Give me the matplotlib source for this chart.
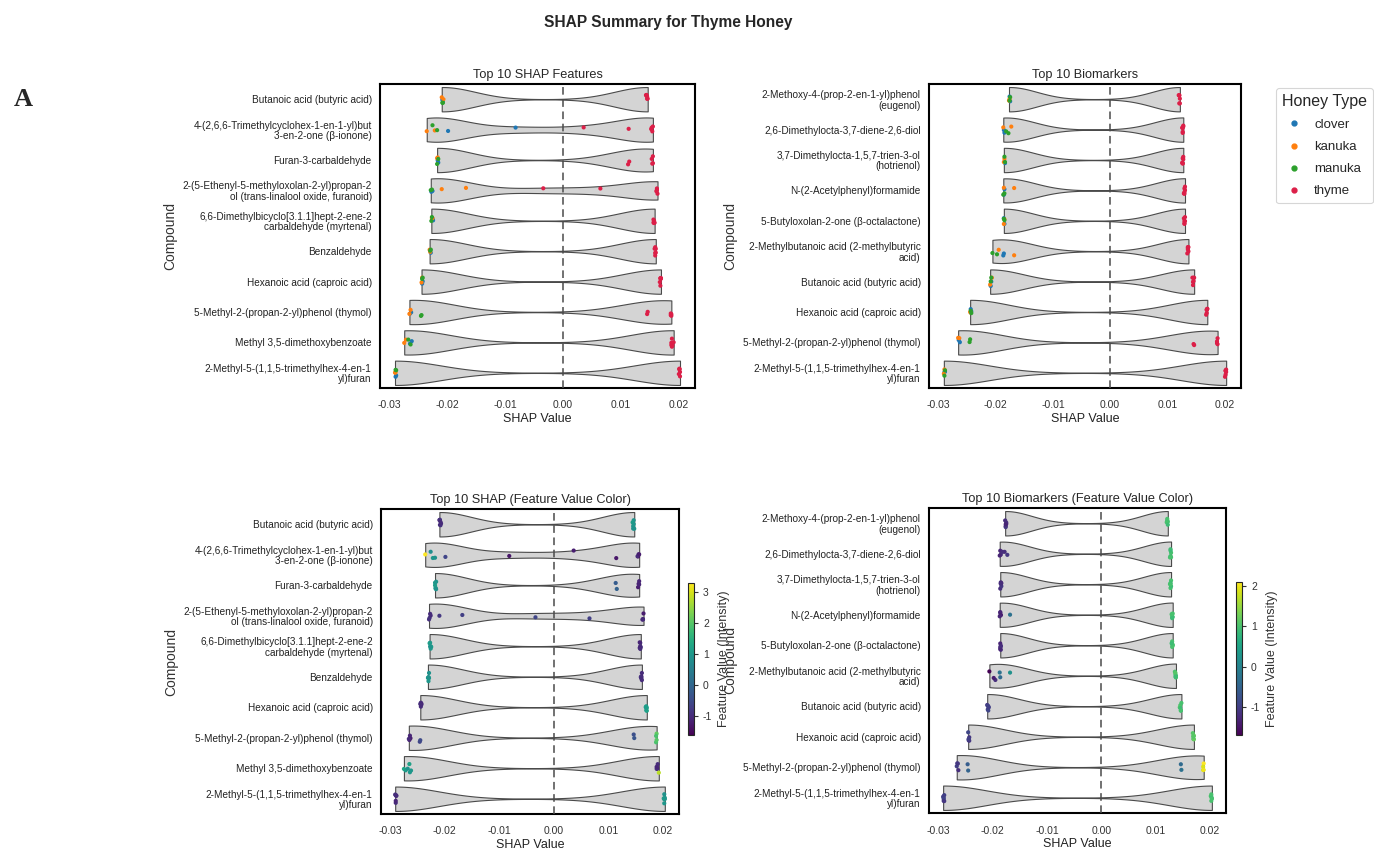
import numpy as np
import pandas as pd
import matplotlib
matplotlib.use("Agg")
import matplotlib.pyplot as plt
from matplotlib.lines import Line2D
import seaborn as sns

np.random.seed(3)

# sample order for every compound: 2 clover, 2 kanuka, 2 manuka, 6 thyme
honey = ['clover', 'clover', 'kanuka', 'kanuka', 'manuka', 'manuka',
         'thyme', 'thyme', 'thyme', 'thyme', 'thyme', 'thyme']
honey_order = ['clover', 'kanuka', 'manuka', 'thyme']
honey_colors = ['#1f77b4', '#ff7f0e', '#2ca02c', '#dc1f48']

# SHAP values and standardised feature values per compound
butanoic_shap = [-0.0209, -0.0208, -0.0210, -0.0207, -0.0209, -0.0208, 0.0145, 0.0146, 0.0144, 0.0147, 0.0145, 0.0146]
butanoic_feat = [-1.0, -0.9, -1.1, -1.0, -0.9, -1.0, 1.0, 0.9, 1.1, 1.0, 0.9, 1.0]
ionone_shap = [-0.0199, -0.0082, -0.0236, -0.0222, -0.0226, -0.0218, 0.0036, 0.0114, 0.0154, 0.0155, 0.0153, 0.0156]
ionone_feat = [-0.6, -1.3, 3.3, 1.0, 0.8, 0.9, -1.2, -1.3, -1.6, -1.1, -1.0, -1.2]
furan_shap = [-0.0217, -0.0216, -0.0218, -0.0217, -0.0216, -0.0218, 0.0113, 0.0115, 0.0155, 0.0156, 0.0154, 0.0156]
furan_feat = [1.0, 0.9, 1.1, 1.0, 0.9, 1.0, -0.2, -0.1, -1.2, -1.1, -1.2, -1.1]
linalool_shap = [-0.0228, -0.0226, -0.0210, -0.0168, -0.0227, -0.0229, -0.0034, 0.0065, 0.0163, 0.0164, 0.0162, 0.0163]
linalool_feat = [-0.9, -1.0, -0.8, -0.7, -1.0, -0.9, -0.6, -0.7, -1.1, -1.2, -1.1, -1.0]
myrtenal_shap = [-0.0226, -0.0225, -0.0227, -0.0226, -0.0228, -0.0227, 0.0158, 0.0157, 0.0159, 0.0158, 0.0157, 0.0158]
myrtenal_feat = [1.0, 1.1, 0.9, 1.0, 1.1, 0.9, -1.0, -1.1, -0.9, -1.0, -1.1, -1.0]
benzaldehyde_shap = [-0.0230, -0.0229, -0.0231, -0.0230, -0.0229, -0.0230, 0.0160, 0.0161, 0.0160, 0.0159, 0.0160, 0.0161]
benzaldehyde_feat = [1.0, 0.9, 1.0, 1.1, 1.0, 0.9, -1.0, -1.0, -1.1, -0.9, -1.0, -1.0]
hexanoic_shap = [-0.0244, -0.0243, -0.0245, -0.0244, -0.0243, -0.0244, 0.0169, 0.0170, 0.0169, 0.0168, 0.0170, 0.0169]
hexanoic_feat = [-1.0, -1.1, -0.9, -1.0, -1.1, -1.0, 1.1, 1.2, 1.0, 1.1, 1.2, 1.1]
thymol_shap = [-0.0265, -0.0263, -0.0266, -0.0264, -0.0246, -0.0245, 0.0146, 0.0147, 0.0187, 0.0188, 0.0187, 0.0188]
thymol_feat = [-1.1, -1.2, -1.0, -1.1, -0.6, -0.5, -0.4, -0.3, 1.9, 2.1, 1.9, 2.0]
dimethoxy_shap = [-0.0265, -0.0262, -0.0275, -0.0272, -0.0268, -0.0264, 0.0188, 0.0189, 0.0190, 0.0188, 0.0189, 0.0192]
dimethoxy_feat = [1.2, 1.0, 1.3, 1.1, 0.9, 1.0, -1.0, -1.1, -1.0, -0.9, -1.1, 2.8]
methylfuran_shap = [-0.0290, -0.0289, -0.0291, -0.0290, -0.0289, -0.0290, 0.0202, 0.0203, 0.0201, 0.0202, 0.0203, 0.0202]
methylfuran_feat = [-1.0, -1.1, -1.0, -0.9, -1.0, -1.1, 1.0, 1.0, 1.1, 0.9, 1.0, 1.0]
eugenol_shap = [-0.0176, -0.0175, -0.0177, -0.0176, -0.0175, -0.0176, 0.0121, 0.0122, 0.0121, 0.0120, 0.0121, 0.0122]
eugenol_feat = [-1.2, -1.3, -1.2, -1.1, -1.2, -1.3, 0.9, 1.0, 0.9, 1.0, 1.0, 0.9]
diol_shap = [-0.0186, -0.0185, -0.0173, -0.0187, -0.0182, -0.0178, 0.0127, 0.0128, 0.0127, 0.0126, 0.0127, 0.0128]
diol_feat = [-1.3, -1.2, -1.1, -1.3, -1.2, -1.2, 0.9, 1.0, 0.9, 1.0, 0.9, 1.0]
hotrienol_shap = [-0.0185, -0.0184, -0.0186, -0.0185, -0.0184, -0.0185, 0.0127, 0.0128, 0.0127, 0.0128, 0.0127, 0.0126]
hotrienol_feat = [-1.2, -1.3, -1.2, -1.3, -1.1, -1.2, 1.0, 0.9, 1.0, 1.0, 0.9, 1.0]
formamide_shap = [-0.0186, -0.0185, -0.0186, -0.0168, -0.0185, -0.0187, 0.0130, 0.0131, 0.0130, 0.0129, 0.0130, 0.0131]
formamide_feat = [-1.3, -1.4, -1.3, -0.3, -1.4, -1.3, 1.0, 0.9, 1.0, 1.0, 0.9, 1.0]
octalactone_shap = [-0.0186, -0.0185, -0.0186, -0.0185, -0.0186, -0.0185, 0.0130, 0.0131, 0.0130, 0.0131, 0.0130, 0.0129]
octalactone_feat = [-1.3, -1.2, -1.3, -1.2, -1.3, -1.2, 1.0, 1.0, 0.9, 1.0, 1.0, 0.9]
methylbutanoic_shap = [-0.0187, -0.0186, -0.0195, -0.0168, -0.0206, -0.0198, 0.0136, 0.0137, 0.0135, 0.0136, 0.0137, 0.0136]
methylbutanoic_feat = [-0.3, -0.4, -1.2, 0.2, -1.7, -1.4, 1.0, 0.9, 1.0, 1.1, 1.0, 0.9]

shap_labels = [
    'Butanoic acid (butyric acid)',
    '4-(2,6,6-Trimethylcyclohex-1-en-1-yl)but\n3-en-2-one (β-ionone)',
    'Furan-3-carbaldehyde',
    '2-(5-Ethenyl-5-methyloxolan-2-yl)propan-2\nol (trans-linalool oxide, furanoid)',
    '6,6-Dimethylbicyclo[3.1.1]hept-2-ene-2\ncarbaldehyde (myrtenal)',
    'Benzaldehyde',
    'Hexanoic acid (caproic acid)',
    '5-Methyl-2-(propan-2-yl)phenol (thymol)',
    'Methyl 3,5-dimethoxybenzoate',
    '2-Methyl-5-(1,1,5-trimethylhex-4-en-1\nyl)furan',
]
shap_values = [butanoic_shap, ionone_shap, furan_shap, linalool_shap, myrtenal_shap,
               benzaldehyde_shap, hexanoic_shap, thymol_shap, dimethoxy_shap, methylfuran_shap]
shap_feats = [butanoic_feat, ionone_feat, furan_feat, linalool_feat, myrtenal_feat,
              benzaldehyde_feat, hexanoic_feat, thymol_feat, dimethoxy_feat, methylfuran_feat]

bio_labels = [
    '2-Methoxy-4-(prop-2-en-1-yl)phenol\n(eugenol)',
    '2,6-Dimethylocta-3,7-diene-2,6-diol',
    '3,7-Dimethylocta-1,5,7-trien-3-ol\n(hotrienol)',
    'N-(2-Acetylphenyl)formamide',
    '5-Butyloxolan-2-one (β-octalactone)',
    '2-Methylbutanoic acid (2-methylbutyric\nacid)',
    'Butanoic acid (butyric acid)',
    'Hexanoic acid (caproic acid)',
    '5-Methyl-2-(propan-2-yl)phenol (thymol)',
    '2-Methyl-5-(1,1,5-trimethylhex-4-en-1\nyl)furan',
]
bio_values = [eugenol_shap, diol_shap, hotrienol_shap, formamide_shap, octalactone_shap,
              methylbutanoic_shap, butanoic_shap, hexanoic_shap, thymol_shap, methylfuran_shap]
bio_feats = [eugenol_feat, diol_feat, hotrienol_feat, formamide_feat, octalactone_feat,
             methylbutanoic_feat, butanoic_feat, hexanoic_feat, thymol_feat, methylfuran_feat]


def long_table(labels, values, feats):
    rows = []
    for lab, vals, fv in zip(labels, values, feats):
        for h, v, f in zip(honey, vals, fv):
            rows.append({'compound': lab, 'shap': v, 'honey': h, 'feat': f})
    return pd.DataFrame(rows)


df_shap = long_table(shap_labels, shap_values, shap_feats)
df_bio = long_table(bio_labels, bio_values, bio_feats)

sns.set_style('white')
plt.rcParams['font.family'] = ['Liberation Sans', 'DejaVu Sans']
plt.rcParams['axes.unicode_minus'] = False

W, H = 1374, 851
fig = plt.figure(figsize=(W / 100, H / 100), dpi=100)


def px_axes(l, t, r, b):
    return fig.add_axes([l / W, 1 - b / H, (r - l) / W, (b - t) / H])


def base_panel(ax, df, labels, title):
    sns.violinplot(data=df, x='shap', y='compound', order=labels, orient='h',
                   inner=None, cut=0, color='#d4d4d4', linecolor='#4a4a4a',
                   linewidth=0.8, density_norm='width', bw_adjust=0.5,
                   width=0.8, saturation=1, ax=ax)
    ax.axvline(0, color='#4a4a4a', ls='--', lw=1.1, dashes=(5, 3), zorder=3)
    ax.set_xlim(-0.0317, 0.0229)
    ax.set_ylim(9.8, -0.85)
    ax.set_xticks([-0.03, -0.02, -0.01, 0.0, 0.01, 0.02])
    ax.set_xticklabels(['-0.03', '-0.02', '-0.01', '0.00', '0.01', '0.02'])
    ax.set_title(title, fontsize=9.2, pad=4)
    ax.tick_params(axis='x', labelsize=7.5, length=3, pad=6, colors='#333333')
    ax.tick_params(axis='y', labelsize=7.2, length=0, pad=6, colors='#222222')
    for lbl in ax.get_yticklabels():
        lbl.set_linespacing(1.05)
    for sp in ax.spines.values():
        sp.set_visible(True)
        sp.set_color('black')
        sp.set_linewidth(1.5)


def finish_labels(ax):
    ax.set_xlabel('SHAP Value', fontsize=9, labelpad=2, color='#222222')
    ax.set_ylabel('Compound', fontsize=10, color='#333333')


# top row: coloured by honey type
ax_tl = px_axes(380, 84, 695, 388)
ax_tr = px_axes(929, 84, 1241, 388)
for ax, df, labels, title in [(ax_tl, df_shap, shap_labels, 'Top 10 SHAP Features'),
                              (ax_tr, df_bio, bio_labels, 'Top 10 Biomarkers')]:
    base_panel(ax, df, labels, title)
    sns.stripplot(data=df, x='shap', y='compound', order=labels, hue='honey',
                  hue_order=honey_order, palette=honey_colors, size=3,
                  jitter=0.15, linewidth=0, legend=False, ax=ax, zorder=4)
    finish_labels(ax)

handles = [Line2D([], [], marker='o', ls='', color=c, markersize=3.5) for c in honey_colors]
leg = fig.legend(handles, honey_order, title='Honey Type', loc='upper left',
                 bbox_to_anchor=(1276 / W, 1 - 88 / H), fontsize=9.5,
                 title_fontsize=11.5, frameon=True, handlelength=1.0,
                 handletextpad=1.0, labelspacing=0.75, borderpad=0.45,
                 borderaxespad=0)
leg.get_frame().set_edgecolor('#cccccc')
leg.get_frame().set_linewidth(0.8)

# bottom row: coloured by feature value
ax_bl = px_axes(381, 509, 679, 814)
ax_br = px_axes(929, 508, 1226, 813)
cax_bl = px_axes(688, 583, 694, 735)
cax_br = px_axes(1236, 582, 1242, 735)
for ax, cax, df, labels, title in [
        (ax_bl, cax_bl, df_shap, shap_labels, 'Top 10 SHAP (Feature Value Color)'),
        (ax_br, cax_br, df_bio, bio_labels, 'Top 10 Biomarkers (Feature Value Color)')]:
    base_panel(ax, df, labels, title)
    vmin, vmax = df['feat'].min(), df['feat'].max()
    sns.stripplot(data=df, x='shap', y='compound', order=labels, hue='feat',
                  palette='viridis', hue_norm=(vmin, vmax), size=3,
                  jitter=0.15, linewidth=0, legend=False, ax=ax, zorder=4)
    finish_labels(ax)
    sm = plt.cm.ScalarMappable(norm=plt.Normalize(vmin, vmax), cmap='viridis')
    cb = fig.colorbar(sm, cax=cax)
    cb.set_label('Feature Value (Intensity)', fontsize=9, color='#333333')
    cb.ax.tick_params(labelsize=7.5, length=3, colors='#333333')
    cb.outline.set_linewidth(0.8)

fig.text(668 / W, 1 - 22 / H, 'SHAP Summary for Thyme Honey', ha='center', va='center',
         fontsize=11.2, fontweight='bold')
fig.text(14 / W, 1 - 100 / H, 'A', ha='left', va='center', fontsize=19,
         fontweight='bold', family='Liberation Serif')

fig.savefig('out.png', dpi=100)
